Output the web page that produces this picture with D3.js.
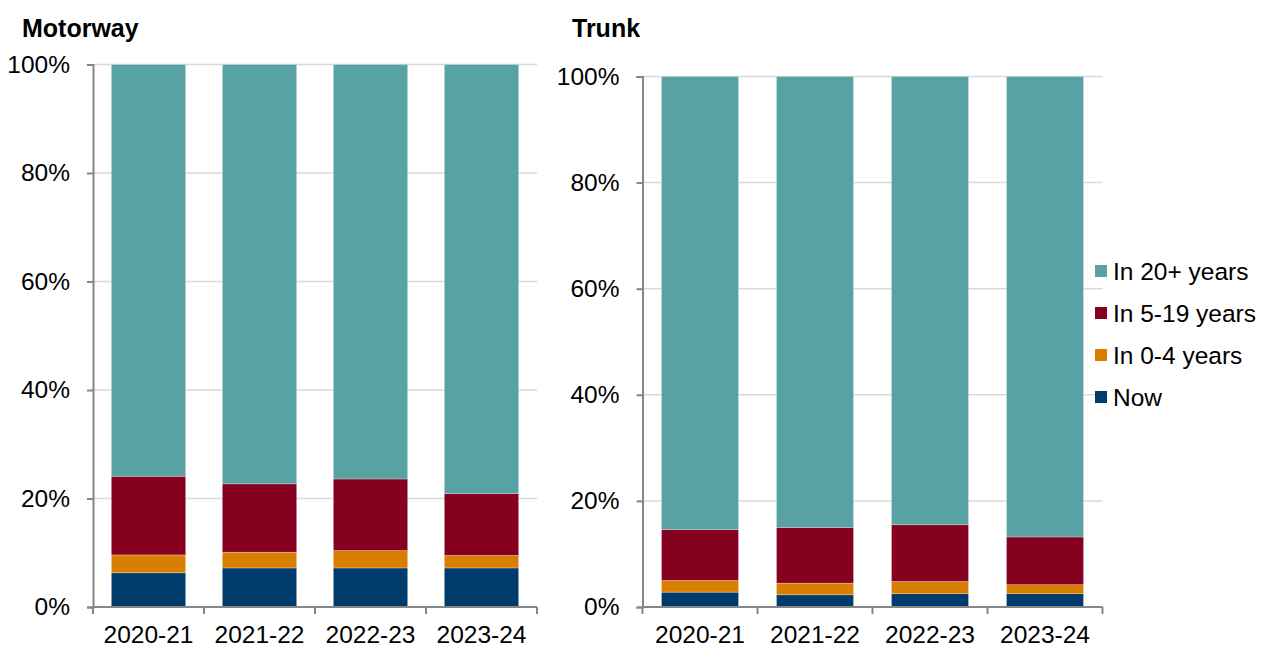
<!DOCTYPE html>
<html>
<head>
<meta charset="utf-8">
<script src="https://cdn.jsdelivr.net/npm/d3@7"></script>
<style>
  body { margin: 0; background: #fff; }
  svg text { font-family: "Liberation Sans", Arial, sans-serif; fill: #000; }
</style>
</head>
<body>
<div id="chart"></div>
<script>
// categories (financial years)
var years = ["2020-21", "2021-22", "2022-23", "2023-24"];

// series keys, bottom to top
var series = ["Now", "In 0-4 years", "In 5-19 years", "In 20+ years"];
var colors = ["#003c6b", "#d97f00", "#86001f", "#58a2a3"];

// Motorway shares (%)
var motorwayNow   = [6.3, 7.2, 7.2, 7.2];
var motorway0_4   = [3.3, 2.9, 3.2, 2.3];
var motorway5_19  = [14.5, 12.6, 13.2, 11.4];
var motorway20    = [75.9, 77.3, 76.4, 79.1];

// Trunk shares (%)
var trunkNow   = [2.8, 2.3, 2.5, 2.5];
var trunk0_4   = [2.2, 2.2, 2.3, 1.7];
var trunk5_19  = [9.6, 10.5, 10.7, 9.0];
var trunk20    = [85.4, 85.0, 84.5, 86.8];

var yTicks = [0, 20, 40, 60, 80, 100];

var w = 1261, h = 646;
var fs = "24.5px";
var svg = d3.select("#chart").append("svg")
  .attr("width", w)
  .attr("height", h);

function buildRows(a, b, c, d) {
  return years.map(function(y, i) {
    var row = { year: y };
    row[series[0]] = a[i];
    row[series[1]] = b[i];
    row[series[2]] = c[i];
    row[series[3]] = d[i];
    return row;
  });
}

function panel(title, rows, box, titleX) {
  var x = d3.scaleBand()
    .domain(years)
    .range([box.left, box.right])
    .paddingInner(0.33)
    .paddingOuter(0.165);

  var y = d3.scaleLinear()
    .domain([0, 100])
    .range([box.bottom, box.top]);

  // gridlines
  svg.append("g")
    .selectAll("line")
    .data(yTicks.slice(1))
    .enter().append("line")
    .attr("x1", box.left)
    .attr("x2", box.right)
    .attr("y1", d => y(d))
    .attr("y2", d => y(d))
    .attr("stroke", "#d9d9d9")
    .attr("stroke-width", 1.5);

  var stacked = d3.stack().keys(series)(rows);

  svg.append("g")
    .selectAll("g")
    .data(stacked)
    .enter().append("g")
    .attr("fill", (d, i) => colors[i])
    .selectAll("rect")
    .data(d => d)
    .enter().append("rect")
    .attr("x", d => x(d.data.year))
    .attr("width", x.bandwidth())
    .attr("y", d => y(d[1]))
    .attr("height", d => y(d[0]) - y(d[1]))
    .attr("stroke", "#ffffff")
    .attr("stroke-opacity", 0.45)
    .attr("stroke-width", 0.6);

  // y axis
  var yAxis = d3.axisLeft(y)
    .tickValues(yTicks)
    .tickSize(6)
    .tickPadding(17)
    .tickFormat(d => d + "%");

  var ya = svg.append("g")
    .attr("transform", "translate(" + box.left + ",0)")
    .call(yAxis);
  ya.select(".domain").attr("stroke", "#868686").attr("stroke-width", 2);
  ya.selectAll(".tick line").attr("stroke", "#868686").attr("stroke-width", 2);
  ya.selectAll("text").attr("font-size", fs);

  // x axis with ticks on category boundaries
  var xa = svg.append("g")
    .attr("transform", "translate(0," + box.bottom + ")");
  xa.append("line")
    .attr("x1", box.left)
    .attr("x2", box.right)
    .attr("stroke", "#868686")
    .attr("stroke-width", 2);
  var bounds = d3.range(years.length + 1).map(i => box.left + i * (box.right - box.left) / years.length);
  xa.selectAll(".bt")
    .data(bounds)
    .enter().append("line")
    .attr("x1", d => d)
    .attr("x2", d => d)
    .attr("y1", 0)
    .attr("y2", 7)
    .attr("stroke", "#868686")
    .attr("stroke-width", 2);
  xa.selectAll(".lbl")
    .data(years)
    .enter().append("text")
    .attr("x", d => x(d) + x.bandwidth() / 2)
    .attr("y", 36)
    .attr("text-anchor", "middle")
    .attr("font-size", fs)
    .text(d => d);

  svg.append("text")
    .attr("x", titleX)
    .attr("y", 37)
    .attr("font-size", "25px")
    .attr("font-weight", "bold")
    .text(title);
}

panel("Motorway", buildRows(motorwayNow, motorway0_4, motorway5_19, motorway20),
  { left: 93, right: 537, top: 64.5, bottom: 607 }, 22);
panel("Trunk", buildRows(trunkNow, trunk0_4, trunk5_19, trunk20),
  { left: 642.5, right: 1102.5, top: 76.5, bottom: 607 }, 572);

// legend, top entry is the last series
var legendItems = series.slice().reverse();
var legendColors = colors.slice().reverse();
var legend = svg.selectAll(".legend")
  .data(legendItems)
  .enter().append("g")
  .attr("class", "legend")
  .attr("transform", (d, i) => "translate(1095," + (271 + i * 42) + ")");

legend.append("rect")
  .attr("x", 0)
  .attr("y", -6)
  .attr("width", 12)
  .attr("height", 12)
  .attr("fill", (d, i) => legendColors[i]);

legend.append("text")
  .attr("x", 18)
  .attr("dy", "0.35em")
  .attr("font-size", fs)
  .text(d => d);
</script>
</body>
</html>
